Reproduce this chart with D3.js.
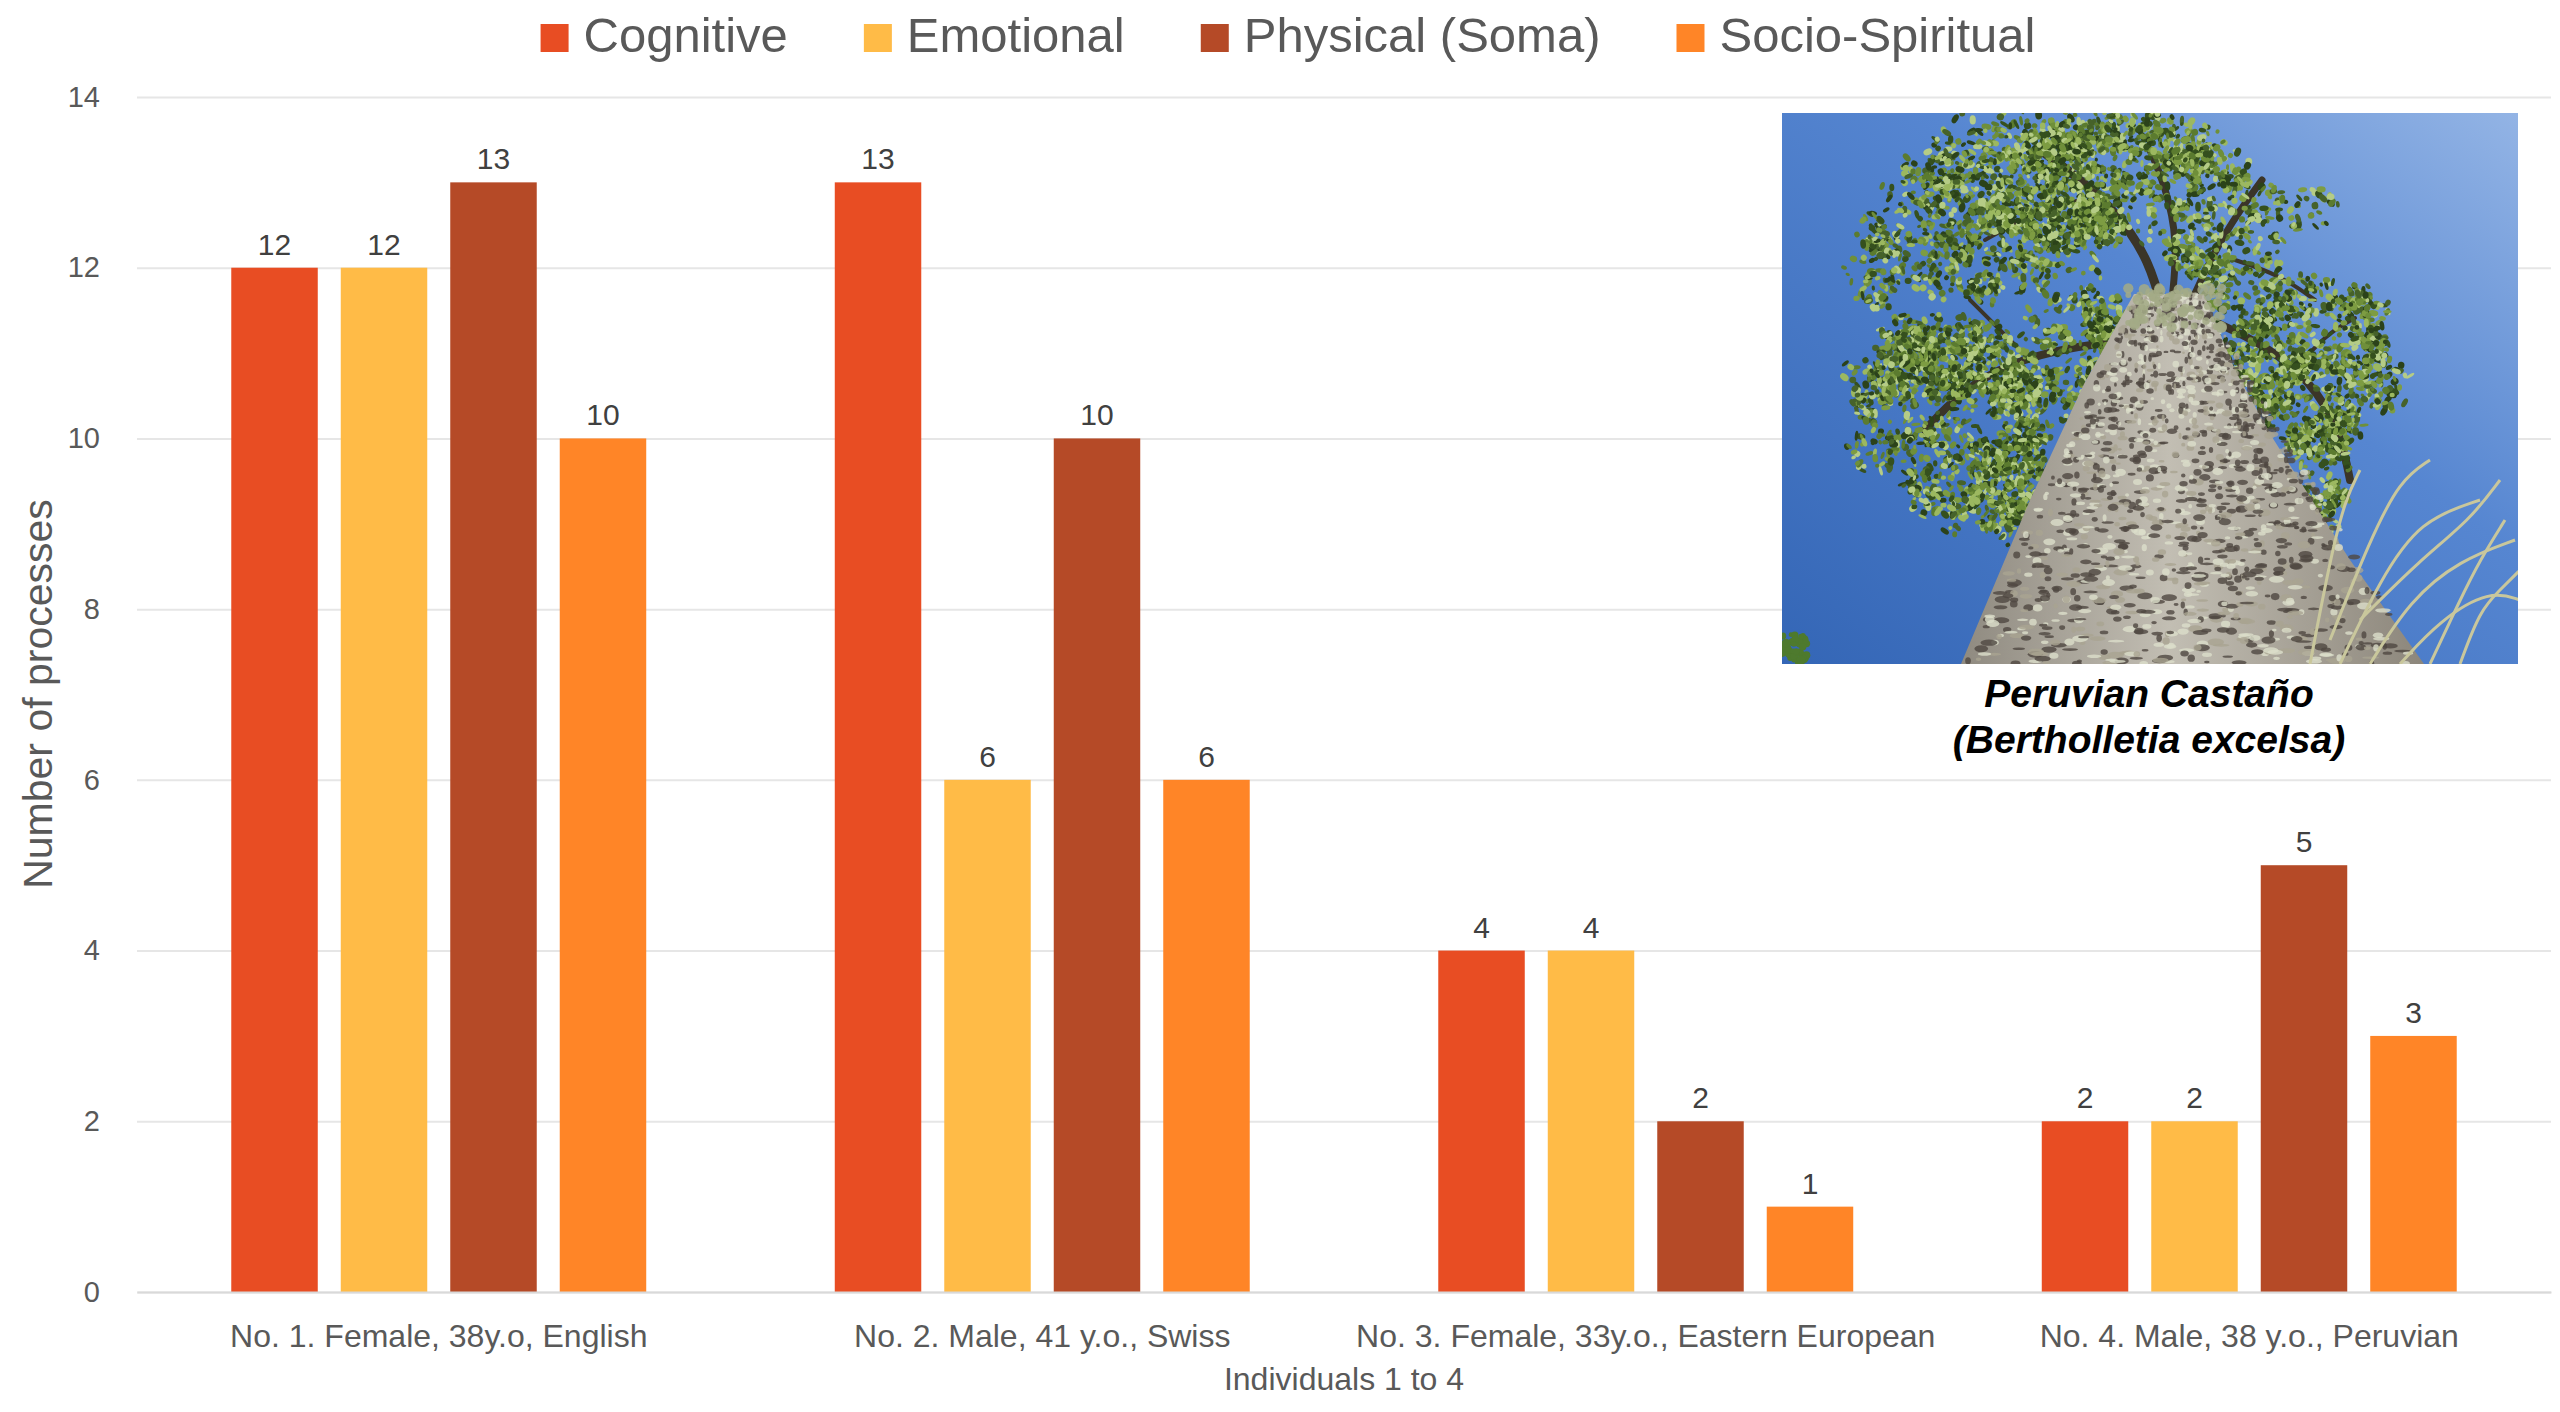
<!DOCTYPE html>
<html>
<head>
<meta charset="utf-8">
<script src="https://cdn.jsdelivr.net/npm/d3@7"></script>
<style>
  body { margin: 0; background: #ffffff; }
  svg { display: block; font-family: "Liberation Sans", Arial, sans-serif; }
</style>
</head>
<body>
<div id="chart"></div>
<script>
// Data
const individuals = [
  "No. 1. Female, 38y.o, English",
  "No. 2. Male, 41 y.o., Swiss",
  "No. 3. Female, 33y.o., Eastern European",
  "No. 4. Male, 38 y.o., Peruvian"
];
const seriesNames = ["Cognitive", "Emotional", "Physical (Soma)", "Socio-Spiritual"];
const cognitive = [12, 13, 4, 2];
const emotional = [12, 6, 4, 2];
const physical = [13, 10, 2, 5];
const socioSpiritual = [10, 6, 1, 3];
const yTicks = [0, 2, 4, 6, 8, 10, 12, 14];

const seriesValues = [cognitive, emotional, physical, socioSpiritual];
const colors = ["#e84d23", "#ffbb47", "#b54a27", "#ff8527"];

const W = 2560, H = 1412;
const plot = { left: 137, right: 2551, top: 97, bottom: 1292 };

const svg = d3.select("#chart").append("svg")
  .attr("width", W)
  .attr("height", H)
  .attr("viewBox", `0 0 ${W} ${H}`);

svg.append("rect").attr("width", W).attr("height", H).attr("fill", "#ffffff");

// Scales
const x0 = d3.scaleBand()
  .domain(individuals)
  .range([plot.left, plot.right])
  .padding(0);

const groupGap = 2.18;   // gap between groups, in bar widths
const seriesGap = 0.266; // gap between bars, in bar widths
const barW = x0.bandwidth() / (4 + 3 * seriesGap + groupGap);

const x1 = d3.scaleBand()
  .domain(seriesNames)
  .range([groupGap * barW / 2, x0.bandwidth() - groupGap * barW / 2])
  .paddingInner(seriesGap / (1 + seriesGap))
  .paddingOuter(0);

const y = d3.scaleLinear()
  .domain([0, 14])
  .range([plot.bottom, plot.top]);

// Y axis with gridlines
const yAxis = svg.append("g")
  .attr("class", "y-axis")
  .attr("transform", `translate(${plot.left},0)`)
  .call(d3.axisLeft(y)
    .tickValues(yTicks)
    .tickSizeInner(-(plot.right - plot.left))
    .tickSizeOuter(0)
    .tickPadding(37));

yAxis.select(".domain").remove();
yAxis.selectAll(".tick line")
  .attr("stroke", "#e6e6e6")
  .attr("stroke-width", 2);
yAxis.selectAll(".tick text")
  .style("font-family", "Liberation Sans, Arial, sans-serif")
  .style("font-size", "29px")
  .attr("fill", "#595959");

// Bars
const groups = svg.append("g")
  .selectAll("g")
  .data(individuals)
  .join("g")
  .attr("transform", d => `translate(${x0(d)},0)`);

groups.selectAll("rect")
  .data((d, i) => seriesNames.map((s, j) => ({ series: s, value: seriesValues[j][i], color: colors[j] })))
  .join("rect")
  .attr("x", d => x1(d.series))
  .attr("y", d => y(d.value))
  .attr("width", x1.bandwidth())
  .attr("height", d => y(0) - y(d.value))
  .attr("fill", d => d.color);

// Value labels
groups.selectAll("text.value-label")
  .data((d, i) => seriesNames.map((s, j) => ({ series: s, value: seriesValues[j][i] })))
  .join("text")
  .attr("class", "value-label")
  .attr("x", d => x1(d.series) + x1.bandwidth() / 2)
  .attr("y", d => y(d.value) - 13)
  .attr("text-anchor", "middle")
  .style("font-size", "30px")
  .attr("fill", "#404040")
  .text(d => d.value);

// X axis
const xAxis = svg.append("g")
  .attr("class", "x-axis")
  .attr("transform", `translate(0,${plot.bottom})`)
  .call(d3.axisBottom(x0).tickSize(0).tickSizeOuter(0).tickPadding(32));

xAxis.select(".domain")
  .attr("stroke", "#d9d9d9")
  .attr("stroke-width", 2);
xAxis.selectAll(".tick text")
  .style("font-family", "Liberation Sans, Arial, sans-serif")
  .style("font-size", "32px")
  .attr("fill", "#595959");

// Axis titles
svg.append("text")
  .attr("x", (plot.left + plot.right) / 2)
  .attr("y", 1390)
  .attr("text-anchor", "middle")
  .style("font-size", "32px")
  .attr("fill", "#595959")
  .text("Individuals 1 to 4");

svg.append("text")
  .attr("transform", "translate(52,694) rotate(-90)")
  .attr("text-anchor", "middle")
  .style("font-size", "41px")
  .attr("fill", "#595959")
  .text("Number of processes");

// Legend
const legend = svg.append("g").attr("class", "legend");
const legendItems = legend.selectAll("g")
  .data(seriesNames)
  .join("g");

legendItems.append("rect")
  .attr("width", 28)
  .attr("height", 28)
  .attr("y", 24)
  .attr("fill", (d, i) => colors[i]);

legendItems.append("text")
  .attr("x", 43)
  .attr("y", 52)
  .style("font-size", "49px")
  .attr("fill", "#595959")
  .text(d => d);

const legendGap = 76;
let cursor = 0;
const offsets = [];
legendItems.each(function () {
  offsets.push(cursor);
  const w = 43 + d3.select(this).select("text").node().getComputedTextLength();
  cursor += w + legendGap;
});
const legendWidth = cursor - legendGap;
const legendStart = 1288 - legendWidth / 2;
legendItems.attr("transform", (d, i) => `translate(${legendStart + offsets[i]},0)`);

// Photo of the tree (drawn as an illustration)
const photo = { x: 1782, y: 113, w: 736, h: 551 };
const defs = svg.append("defs");

defs.append("clipPath").attr("id", "photo-clip")
  .append("rect")
  .attr("x", photo.x).attr("y", photo.y)
  .attr("width", photo.w).attr("height", photo.h);

const sky = defs.append("linearGradient")
  .attr("id", "sky")
  .attr("x1", "1").attr("y1", "0").attr("x2", "0").attr("y2", "1");
sky.append("stop").attr("offset", "0%").attr("stop-color", "#93b4e5");
sky.append("stop").attr("offset", "40%").attr("stop-color", "#5686d1");
sky.append("stop").attr("offset", "100%").attr("stop-color", "#3466b6");

const bark = defs.append("linearGradient")
  .attr("id", "bark")
  .attr("x1", "0").attr("y1", "0").attr("x2", "1").attr("y2", "0");
bark.append("stop").attr("offset", "0%").attr("stop-color", "#8f8a80");
bark.append("stop").attr("offset", "45%").attr("stop-color", "#c2beb3");
bark.append("stop").attr("offset", "100%").attr("stop-color", "#8c867b");

const pic = svg.append("g").attr("clip-path", "url(#photo-clip)");

pic.append("rect")
  .attr("x", photo.x).attr("y", photo.y)
  .attr("width", photo.w).attr("height", photo.h)
  .attr("fill", "url(#sky)");

// deterministic pseudo-random generator for the picture texture
let seed = 11;
function noise() {
  seed = (seed * 16807) % 2147483647;
  return (seed - 1) / 2147483646;
}

const line = d3.line().curve(d3.curveBasis);

// Foliage: clumps of small leaves spread over the crown
const crown = [
  { cx: 2100, cy: 270, rx: 240, ry: 150, n: 110 },
  { cx: 1950, cy: 420, rx: 90, ry: 100, n: 40 },
  { cx: 2310, cy: 400, rx: 90, ry: 120, n: 40 },
  { cx: 2070, cy: 175, rx: 140, ry: 55, n: 34 },
  { cx: 2020, cy: 480, rx: 50, ry: 50, n: 14 }
];
const leafColors = ["#5b7b2f", "#7d9c42", "#9cb860", "#46622a", "#35501e", "#2b421a", "#6f8f3a", "#b5cc86"];
const leaves = [];
crown.forEach(c => {
  for (let i = 0; i < c.n; i++) {
    const a = noise() * Math.PI * 2;
    const r = Math.sqrt(noise());
    const kx = c.cx + Math.cos(a) * r * c.rx;
    const ky = c.cy + Math.sin(a) * r * c.ry;
    const size = 14 + noise() * 22;
    const count = 20 + Math.floor(noise() * 24);
    for (let k = 0; k < count; k++) {
      const b = noise() * Math.PI * 2;
      const s = Math.sqrt(noise()) * size;
      leaves.push({
        x: kx + Math.cos(b) * s,
        y: ky + Math.sin(b) * s,
        rx: 2 + noise() * 3,
        ry: 1.5 + noise() * 2,
        rot: noise() * 180,
        c: leafColors[Math.floor(noise() * leafColors.length)]
      });
    }
  }
});

// Branches
const branches = [
  { w: 9, pts: [[2165, 320], [2150, 260], [2115, 210], [2075, 175], [2040, 150]] },
  { w: 7, pts: [[2172, 300], [2178, 240], [2165, 185], [2150, 150]] },
  { w: 7, pts: [[2192, 300], [2215, 250], [2240, 210], [2262, 180]] },
  { w: 8, pts: [[2140, 340], [2080, 345], [2010, 362], [1960, 392], [1925, 430]] },
  { w: 8, pts: [[2215, 322], [2265, 345], [2310, 380], [2340, 430], [2350, 480]] },
  { w: 7, pts: [[2110, 345], [2102, 390], [2098, 440], [2100, 470]] },
  { w: 4, pts: [[2080, 200], [2030, 215], [1985, 240]] },
  { w: 4, pts: [[2235, 260], [2280, 275], [2315, 300]] },
  { w: 4, pts: [[2030, 360], [1995, 325], [1970, 300]] },
  { w: 4, pts: [[2295, 370], [2325, 335], [2355, 318]] }
];

pic.append("g")
  .selectAll("path")
  .data(branches)
  .join("path")
  .attr("d", d => line(d.pts))
  .attr("fill", "none")
  .attr("stroke", "#3b3528")
  .attr("stroke-width", d => d.w)
  .attr("stroke-linecap", "round");

pic.append("g")
  .selectAll("ellipse")
  .data(leaves)
  .join("ellipse")
  .attr("cx", d => d.x)
  .attr("cy", d => d.y)
  .attr("rx", d => d.rx)
  .attr("ry", d => d.ry)
  .attr("transform", d => `rotate(${d.rot},${d.x},${d.y})`)
  .attr("fill", d => d.c);

// Trunk
const trunkLeft = [[1961, 664], [2030, 500], [2084, 384], [2134, 294]];
const trunkRight = [[2204, 294], [2235, 370], [2272, 437], [2350, 560], [2424, 664]];
const trunkPoly = trunkLeft.concat(trunkRight);

pic.append("path")
  .attr("d", "M" + trunkPoly.map(p => p.join(",")).join("L") + "Z")
  .attr("fill", "url(#bark)");

// Bark texture
const spots = [];
for (let i = 0; i < 1600; i++) {
  const t = noise();
  const yy = 294 + t * 370;
  const f = (yy - 294) / 370;
  const xl = 2134 + (1961 - 2134) * f;
  const xr = 2204 + (2424 - 2204) * f;
  const dark = noise() < 0.5;
  spots.push({
    x: xl + 4 + noise() * (xr - xl - 8),
    y: yy,
    rx: (1.5 + noise() * 4) * (0.6 + f),
    ry: 1.2 + noise() * 2.5,
    c: dark ? "#4f4741" : (noise() < 0.5 ? "#dcdecb" : "#a9a491")
  });
}

pic.append("g")
  .selectAll("ellipse")
  .data(spots)
  .join("ellipse")
  .attr("cx", d => d.x)
  .attr("cy", d => d.y)
  .attr("rx", d => d.rx)
  .attr("ry", d => d.ry)
  .attr("fill", d => d.c)
  .attr("opacity", 0.8);

// Moss at the crown base
pic.append("g")
  .selectAll("circle")
  .data(d3.range(70).map(() => ({ x: 2128 + noise() * 95, y: 288 + noise() * 40, r: 2 + noise() * 4 })))
  .join("circle")
  .attr("cx", d => d.x)
  .attr("cy", d => d.y)
  .attr("r", d => d.r)
  .attr("fill", "#a3aa86")
  .attr("opacity", 0.85);

// Grass strands on the right
const grass = [
  [[2310, 664], [2330, 560], [2345, 500], [2360, 470]],
  [[2340, 664], [2380, 580], [2420, 520], [2480, 500]],
  [[2370, 664], [2410, 600], [2460, 560], [2515, 540]],
  [[2400, 664], [2440, 620], [2490, 590], [2520, 600]],
  [[2330, 640], [2370, 540], [2400, 480], [2430, 460]],
  [[2430, 664], [2460, 600], [2480, 560], [2505, 520]],
  [[2360, 620], [2420, 560], [2470, 520], [2500, 480]],
  [[2460, 664], [2480, 610], [2500, 590], [2520, 570]]
];
pic.append("g")
  .selectAll("path")
  .data(grass)
  .join("path")
  .attr("d", d => line(d))
  .attr("fill", "none")
  .attr("stroke", "#c9c79c")
  .attr("stroke-width", 3);

// Small bush bottom-left
pic.append("g")
  .selectAll("circle")
  .data(d3.range(40).map(() => ({ x: 1782 + noise() * 26, y: 634 + noise() * 30, r: 2 + noise() * 3 })))
  .join("circle")
  .attr("cx", d => d.x)
  .attr("cy", d => d.y)
  .attr("r", d => d.r)
  .attr("fill", "#4e7a2e");

// Caption
svg.append("text")
  .attr("x", 2149)
  .attr("y", 707)
  .attr("text-anchor", "middle")
  .style("font-size", "39px")
  .style("font-weight", "bold")
  .style("font-style", "italic")
  .attr("fill", "#000000")
  .text("Peruvian Castaño");

svg.append("text")
  .attr("x", 2149)
  .attr("y", 753)
  .attr("text-anchor", "middle")
  .style("font-size", "39px")
  .style("font-weight", "bold")
  .style("font-style", "italic")
  .attr("fill", "#000000")
  .text("(Bertholletia excelsa)");
</script>
</body>
</html>
